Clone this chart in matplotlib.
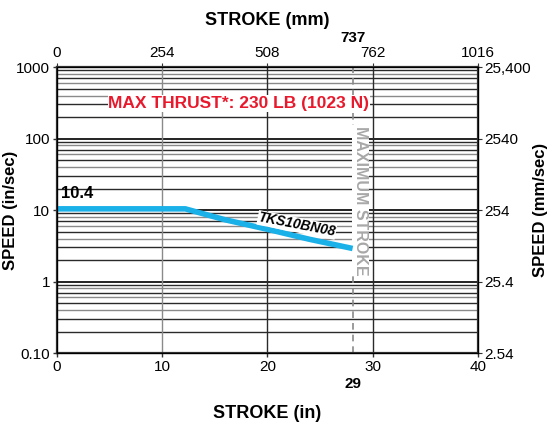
import matplotlib
matplotlib.use("Agg")
import matplotlib.pyplot as plt

plt.rcParams['font.family'] = ['Liberation Sans', 'DejaVu Sans']

# Data
stroke_in = [0, 12.2, 16.0, 20.2, 24.0, 28.1]
speed_in_s = [10.4, 10.4, 7.3, 5.3, 3.9, 2.9]
max_stroke_in = 28.1
max_stroke_label_in = "29"
max_stroke_label_mm = "737"
bottom_ticks = [0, 10, 20, 30, 40]
top_tick_labels = ["0", "254", "508", "762", "1016"]
left_ticks = [0.1, 1, 10, 100, 1000]
left_tick_labels = ["0.10", "1", "10", "100", "1000"]
right_tick_labels = ["2.54", "25.4", "254", "2540", "25,400"]
series_name = "TKS10BN08"
start_label = "10.4"
thrust_text = "MAX THRUST*: 230 LB (1023 N)"

fig = plt.figure(figsize=(5.53, 4.30), dpi=100)
ax = fig.add_axes([0.103, 0.179, 0.761, 0.665])
ax.set_yscale('log')
ax.set_xlim(0, 40)
ax.set_ylim(0.1, 1000)

# horizontal grid
for dec in [0.1, 1, 10, 100]:
    for m in range(2, 10):
        v = dec * m
        col = '#2a2a2a' if m in (2, 3, 5, 7, 9) else '#8a8a8a'
        ax.axhline(v, color=col, lw=1.0, zorder=1)
    if dec > 0.1:
        ax.axhline(dec, color='#222222', lw=1.4, zorder=1)
# vertical grid
for x, col in zip([10, 20, 30], ['#8a8a8a', '#2a2a2a', '#2a2a2a']):
    ax.axvline(x, color=col, lw=1.0, zorder=1)

# max stroke
ax.axvline(max_stroke_in, color='#8a8a8a', lw=1.2, ls=(0, (4, 3)), zorder=2)
ax.text(max_stroke_in + 0.75, 150, "MAXIMUM STROKE", rotation=-90, ha='center', va='top',
        color='#a8a8a8', fontsize=11.5, fontweight='bold', zorder=3,
        bbox=dict(facecolor='white', edgecolor='none', pad=0.5))

# series
ax.plot(stroke_in, speed_in_s, color='#1ab0e8', lw=4, solid_capstyle='butt', zorder=4)
ax.text(0.4, 13.5, start_label, fontsize=12, fontweight='bold', ha='left', va='bottom', zorder=5)
ax.text(22.8, 6.2, series_name, fontsize=10, fontweight='bold', style='italic',
        rotation=-11, ha='center', va='center', zorder=5,
        bbox=dict(facecolor='white', edgecolor='none', pad=0.3))

ax.text(17.3, 310, thrust_text, color='#e8192c', fontsize=12.5, fontweight='bold',
        ha='center', va='center', zorder=5,
        bbox=dict(facecolor='white', edgecolor='none', pad=0.5))

for s in ax.spines.values():
    s.set_color('#333333')
    s.set_linewidth(1.6)

ax.set_xticks(bottom_ticks)
ax.set_xticklabels([str(t) for t in bottom_ticks])
ax.set_yticks(left_ticks)
ax.set_yticklabels(left_tick_labels)
ax.minorticks_off()
ax.tick_params(axis='both', labelsize=11, length=3, width=1, pad=2, color='#333333')

axr = ax.twinx()
axr.set_yscale('log')
axr.set_ylim(0.1, 1000)
axr.set_yticks(left_ticks)
axr.set_yticklabels(right_tick_labels)
axr.minorticks_off()
axr.tick_params(axis='y', labelsize=11, length=3, pad=2, color='#333333')
axr.set_ylabel("SPEED (mm/sec)", fontsize=12, fontweight='bold')
axr.yaxis.set_label_coords(1.132, 0.5)

axt = ax.twiny()
axt.set_xlim(0, 40)
axt.set_xticks(bottom_ticks)
axt.set_xticklabels(top_tick_labels)
axt.tick_params(axis='x', labelsize=11, length=3, pad=2, color='#333333')
axt.set_xlabel("STROKE (mm)", fontsize=13, fontweight='bold', labelpad=15)

ax.set_xlabel("STROKE (in)", fontsize=13, fontweight='bold', labelpad=22)
ax.set_ylabel("SPEED (in/sec)", fontsize=12, fontweight='bold')
ax.yaxis.set_label_coords(-0.093, 0.5)

ax.annotate(max_stroke_label_in, (max_stroke_in, 0.1), xytext=(0, -17), textcoords='offset points',
            fontsize=11, fontweight='bold', ha='center', va='top', annotation_clip=False)
ax.annotate(max_stroke_label_mm, (max_stroke_in, 1000), xytext=(0, 16), textcoords='offset points',
            fontsize=11, fontweight='bold', ha='center', va='bottom', annotation_clip=False)

fig.savefig("out.png", dpi=100)
